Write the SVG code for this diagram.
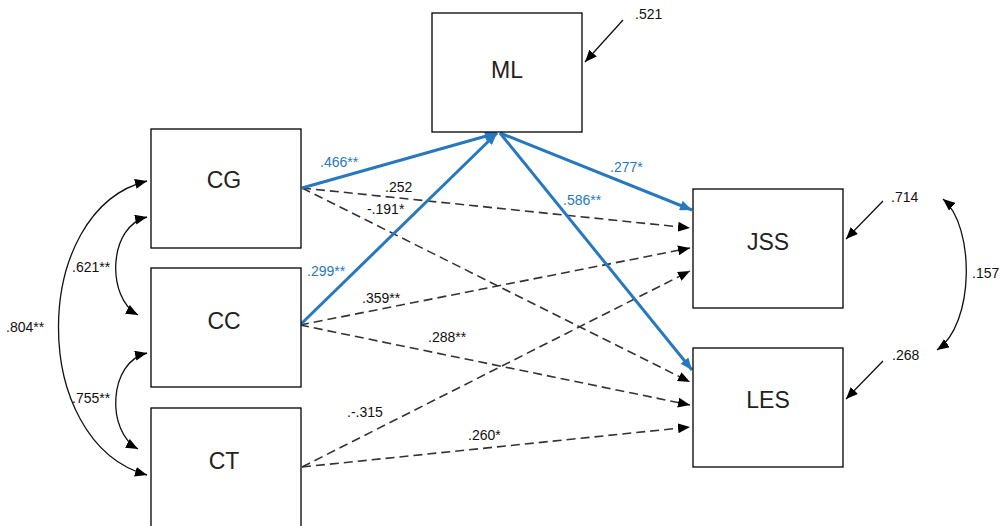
<svg xmlns="http://www.w3.org/2000/svg" width="1000" height="526" viewBox="0 0 1000 526">
<style>
.box{fill:#fff;stroke:#000;stroke-width:1.3}
.nt{font-family:"Liberation Sans",Arial,sans-serif;font-size:23px;fill:#222;text-anchor:middle;dominant-baseline:central}
.lb{font-family:"Liberation Sans",Arial,sans-serif;font-size:14px;fill:#111}
.bl{fill:#2878BE}
.dash{fill:none;stroke:#333;stroke-width:1.6;stroke-dasharray:9 5}
.blue{fill:none;stroke:#2878BE;stroke-width:3}
.solid{fill:none;stroke:#111;stroke-width:1.3}
</style>
<defs>
<marker id="ak" viewBox="0 0 12 10" refX="12" refY="5" markerWidth="12" markerHeight="10" markerUnits="userSpaceOnUse" orient="auto-start-reverse"><path d="M0,0 L12,5 L0,10 z" fill="#000"/></marker>
<marker id="ab" viewBox="0 0 12 10" refX="12" refY="5" markerWidth="13" markerHeight="10" markerUnits="userSpaceOnUse" orient="auto"><path d="M0,0 L12,5 L0,10 z" fill="#2878BE"/></marker>
</defs>
<rect width="1000" height="526" fill="#fff"/>
<g id="connectors">
<path class="dash" d="M302,188 L690,228" marker-end="url(#ak)"/>
<path class="dash" d="M302,188 L690,382" marker-end="url(#ak)"/>
<path class="dash" d="M300,325 L690,248" marker-end="url(#ak)"/>
<path class="dash" d="M300,325 L690,405" marker-end="url(#ak)"/>
<path class="dash" d="M302,467 L690,271" marker-end="url(#ak)"/>
<path class="dash" d="M302,467 L690,427" marker-end="url(#ak)"/>
<path class="blue" d="M302,188 L497,133" marker-end="url(#ab)"/>
<path class="blue" d="M300,325 L497,133" marker-end="url(#ab)"/>
<path class="blue" d="M500,133 L692,210" marker-end="url(#ab)"/>
<path class="blue" d="M500,133 L692,370" marker-end="url(#ab)"/>
<path class="solid" d="M623,20 L585,62" marker-end="url(#ak)"/>
<path class="solid" d="M883,201 L846,239" marker-end="url(#ak)"/>
<path class="solid" d="M883,361 L846,399" marker-end="url(#ak)"/>
<path class="solid" d="M147,217 C108,226 106,298 138,315" marker-start="url(#ak)" marker-end="url(#ak)"/>
<path class="solid" d="M147,353 C108,362 106,432 138,449" marker-start="url(#ak)" marker-end="url(#ak)"/>
<path class="solid" d="M147,181 C30,210 28,442 147,475" marker-start="url(#ak)" marker-end="url(#ak)"/>
<path class="solid" d="M943,199 C975,226 975,324 937,350" marker-start="url(#ak)" marker-end="url(#ak)"/>
<text class="lb bl" x="320" y="167">.466**</text>
<text class="lb" x="385" y="192">.252</text>
<text class="lb" x="367" y="214">-.191*</text>
<text class="lb bl" x="307" y="276">.299**</text>
<text class="lb" x="362" y="303">.359**</text>
<text class="lb" x="428" y="342">.288**</text>
<text class="lb" x="347" y="417">.-.315</text>
<text class="lb" x="468" y="440">.260*</text>
<text class="lb bl" x="610" y="172">.277*</text>
<text class="lb bl" x="563" y="205">.586**</text>
<text class="lb" x="635" y="19">.521</text>
<text class="lb" x="891" y="202">.714</text>
<text class="lb" x="892" y="360">.268</text>
<text class="lb" x="972" y="278">.157</text>
<text class="lb" x="72" y="272">.621**</text>
<text class="lb" x="72" y="403">.755**</text>
<text class="lb" x="6" y="332">.804**</text>
</g>
<g id="ML"><rect class="box" x="432" y="13" width="150" height="119"/><text class="nt" x="507" y="70">ML</text></g>
<g id="CG"><rect class="box" x="151" y="129" width="150" height="119"/><text class="nt" x="224" y="180">CG</text></g>
<g id="CC"><rect class="box" x="151" y="268" width="150" height="119"/><text class="nt" x="224" y="321">CC</text></g>
<g id="CT"><rect class="box" x="151" y="408" width="150" height="130"/><text class="nt" x="224" y="461">CT</text></g>
<g id="JSS"><rect class="box" x="693" y="189" width="150" height="119"/><text class="nt" x="768" y="242">JSS</text></g>
<g id="LES"><rect class="box" x="693" y="348" width="150" height="119"/><text class="nt" x="768" y="400">LES</text></g>
</svg>
